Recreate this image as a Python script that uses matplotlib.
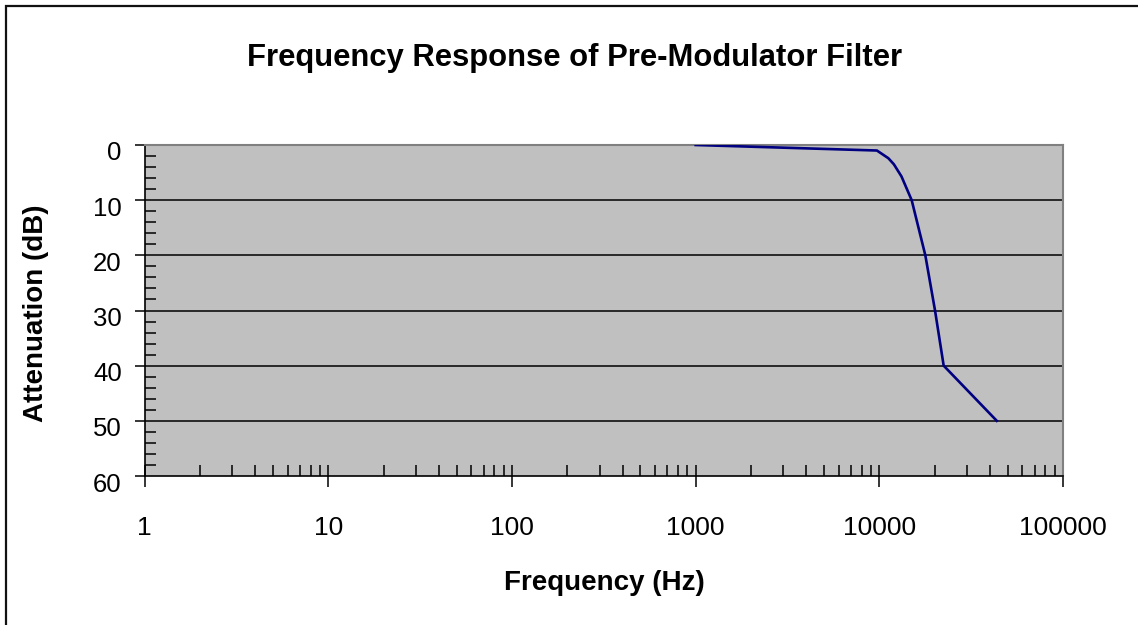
import matplotlib
matplotlib.use("Agg")
import matplotlib.pyplot as plt
from matplotlib.ticker import FixedLocator, NullFormatter, FixedFormatter
from matplotlib.patches import Rectangle
from matplotlib.transforms import ScaledTranslation

plt.rcParams['font.family'] = ['Liberation Sans', 'DejaVu Sans']

freq_hz = [1000, 9700, 11200, 12000, 13200, 15000, 17800, 20100, 22400, 43600]
atten_db = [0, 1, 2.4, 3.5, 5.7, 10, 20, 30, 40, 50]

title = "Frequency Response of Pre-Modulator Filter"
x_label = "Frequency (Hz)"
y_label = "Attenuation (dB)"
x_ticks = [1, 10, 100, 1000, 10000, 100000]
x_tick_labels = ["1", "10", "100", "1000", "10000", "100000"]
y_ticks = [0, 10, 20, 30, 40, 50, 60]

W, H = 1138, 625
fig = plt.figure(figsize=(W/100, H/100), dpi=100)
fig.patch.set_facecolor('white')
# outer chart border (left and top visible)
fig.add_artist(Rectangle((6/W, -0.05), 1.1, 1 - 6/H + 0.05, transform=fig.transFigure,
                         fill=False, edgecolor='#111111', linewidth=1.6, zorder=0))

ax = fig.add_axes([144.7/W, 1 - 476/H, (1063 - 144.7)/W, (476 - 145)/H])
ax.set_facecolor('#c0c0c0')
ax.set_xscale('log')
ax.set_xlim(1, 100000)
ax.set_ylim(60, 0)

for y in y_ticks[1:-1]:
    ax.axhline(y, color='black', linewidth=1.1, zorder=1)

ax.plot(freq_hz, atten_db, color='#000080', linewidth=1.9, zorder=3, solid_joinstyle='round')

ax.xaxis.set_major_locator(FixedLocator(x_ticks))
ax.xaxis.set_major_formatter(FixedFormatter(x_tick_labels))
minors = [m * 10**d for d in range(0, 5) for m in range(2, 10)]
ax.xaxis.set_minor_locator(FixedLocator(minors))
ax.xaxis.set_minor_formatter(NullFormatter())
ax.yaxis.set_major_locator(FixedLocator(y_ticks))
ax.yaxis.set_minor_locator(FixedLocator([v for v in range(0, 61, 2) if v % 10]))

ax.tick_params(axis='x', which='major', direction='inout', length=16, width=1.1, labelsize=19, pad=21)
ax.tick_params(axis='x', which='minor', direction='in', length=8, width=1.1)
ax.tick_params(axis='y', which='major', direction='out', length=7, width=1.1, labelsize=18.5, pad=9.5)
ax.tick_params(axis='y', which='minor', direction='in', length=8, width=1.1)

off = ScaledTranslation(0, -6/100, fig.dpi_scale_trans)
for lab in ax.get_yticklabels():
    lab.set_transform(lab.get_transform() + off)

ax.spines['left'].set_color('black')
ax.spines['bottom'].set_color('black')
ax.spines['left'].set_linewidth(1.2)
ax.spines['bottom'].set_linewidth(1.2)
ax.spines['top'].set_color('#808080')
ax.spines['right'].set_color('#808080')
ax.spines['top'].set_linewidth(1.5)
ax.spines['right'].set_linewidth(1.5)

fig.text(604/W, 1 - 583/H, x_label, fontsize=20, fontweight='bold', ha='center', va='center')
fig.text(36/W, 1 - 313/H, y_label, fontsize=20, fontweight='bold', ha='center', va='center', rotation=90)
fig.text(575/W, 1 - 58/H, title, fontsize=22.3, fontweight='bold', ha='center', va='center')

fig.savefig('out.png', dpi=100)
